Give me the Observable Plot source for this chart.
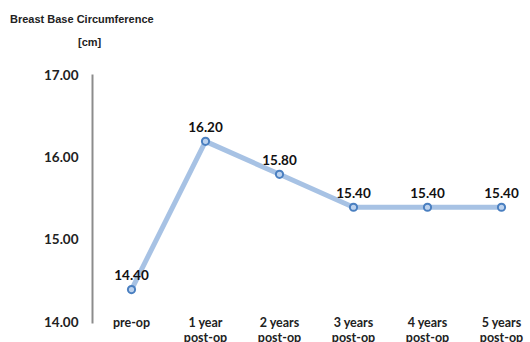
<!DOCTYPE html>
<html>
<head>
<meta charset="utf-8">
<script src="https://cdn.jsdelivr.net/npm/d3@7"></script>
<script src="https://cdn.jsdelivr.net/npm/@observablehq/plot@0.6"></script>
<style>
  html, body { margin: 0; padding: 0; background: #fff; }
  #wrap { position: relative; width: 530px; height: 342px; overflow: hidden; font-family: "Liberation Sans", Arial, sans-serif; }
  #title { position: absolute; left: 10px; top: 13px; font-size: 11px; font-weight: bold; color: #222; }
  #unit { position: absolute; left: 78px; top: 36px; font-size: 11px; font-weight: bold; color: #222; }
  #chart { position: absolute; left: 0; top: 0; }
</style>
</head>
<body>
<div id="wrap">
  <div id="chart"></div>
  <div id="title">Breast Base Circumference</div>
  <div id="unit">[cm]</div>
</div>
<script>
// Follow-up time points and mean breast base circumference (cm)
const stages = ["pre-op", "1 year\npost-op", "2 years\npost-op", "3 years\npost-op", "4 years\npost-op", "5 years\npost-op"];
const circumference = [14.40, 16.20, 15.80, 15.40, 15.40, 15.40];
const yTicks = [14, 15, 16, 17];

const rows = stages.map((s, i) => ({stage: s, value: circumference[i]}));
const font = "Lato, 'Open Sans', sans-serif";

const chart = Plot.plot({
  width: 530,
  height: 342,
  marginTop: 75,
  marginBottom: 20,
  marginLeft: 92,
  marginRight: 0,
  style: {fontFamily: font, background: "transparent"},
  x: {type: "point", domain: stages, range: [129, 502], padding: 0, axis: null},
  y: {domain: [14, 17], axis: null},
  marks: [
    Plot.frame({anchor: "left", stroke: "#8c8c8c", strokeWidth: 2}),
    Plot.axisY({ticks: yTicks, tickSize: 0, tickPadding: 14, tickFormat: d3.format(".2f"), label: null,
      fontSize: 13.5, fontWeight: "bold", fill: "#222"}),
    Plot.text(stages, {x: d => d, y: () => 14, text: d => d, lineAnchor: "top", dy: -7,
      fontSize: 12.5, fontWeight: "bold", fill: "#222", lineHeight: 1.25}),
    Plot.line(rows, {x: "stage", y: "value", stroke: "#a7c2e4", strokeWidth: 5, curve: "linear"}),
    Plot.dot(rows, {x: "stage", y: "value", r: 3.6, stroke: "#4a7fc0", strokeWidth: 2, fill: "#bcd2ee"}),
    Plot.text(rows, {x: "stage", y: "value", text: d => d.value.toFixed(2), dy: -14,
      fontSize: 13.5, fontWeight: "bold", fill: "#111"})
  ]
});
document.getElementById("chart").appendChild(chart);
</script>
</body>
</html>
